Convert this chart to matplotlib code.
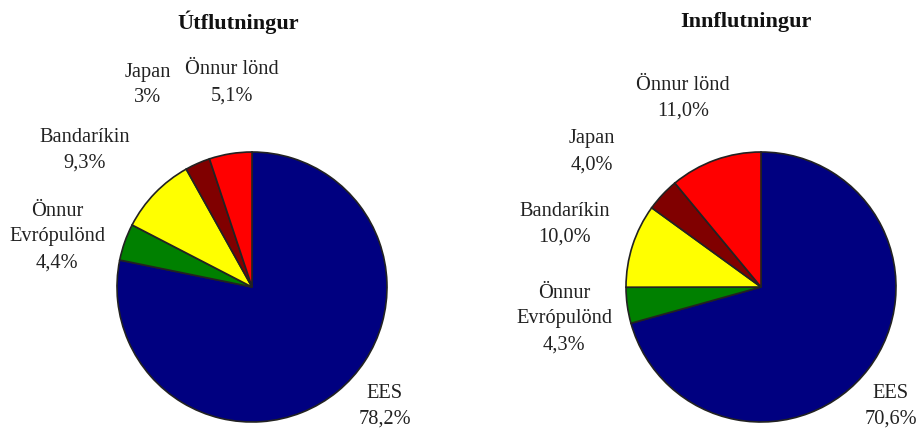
import matplotlib
matplotlib.use("Agg")
import matplotlib.pyplot as plt

plt.rcParams['font.family'] = ['Liberation Serif', 'DejaVu Serif']

categories = ["EES", "Önnur\nEvrópulönd", "Bandaríkin", "Japan", "Önnur lönd"]
export_vals = [78.2, 4.4, 9.3, 3.0, 5.1]
export_lbls = ["78,2%", "4,4%", "9,3%", "3%", "5,1%"]
import_vals = [70.6, 4.3, 10.0, 4.0, 11.0]
import_lbls = ["70,6%", "4,3%", "10,0%", "4,0%", "11,0%"]
titles = ["Útflutningur", "Innflutningur"]

colors = ["#000080", "#008000", "#ffff00", "#800000", "#ff0000"]

W, H = 922, 429
fig = plt.figure(figsize=(W / 100, H / 100), dpi=100)
ax = fig.add_axes([0, 0, 1, 1])
ax.set_xlim(0, W)
ax.set_ylim(0, H)
ax.set_aspect("equal")
ax.axis("off")

# label positions in pixels (x, top line y) for each slice
export_pos = [(385, 393), (57, 211), (85, 137), (148, 72), (232, 70)]
import_pos = [(891, 393), (564, 293), (565, 211), (592, 139), (683, 85)]

charts = [
    (export_vals, export_lbls, (252, 287), export_pos, (238, 22)),
    (import_vals, import_lbls, (761, 287), import_pos, (746, 22)),
]

for i, (vals, lbls, c, pos, tpos) in enumerate(charts):
    ax.pie(vals, colors=colors, startangle=90, counterclock=False,
           center=(c[0], H - c[1]), radius=135,
           wedgeprops=dict(edgecolor="#222222", linewidth=1.2))
    for cat, lb, (x, y) in zip(categories, lbls, pos):
        lines = cat.split("\n") + [lb]
        for k, ln in enumerate(lines):
            ax.text(x, H - (y + 26 * k), ln, ha="center", va="center",
                    fontsize=14.7, color="#222222")
    ax.text(tpos[0], H - tpos[1], titles[i], ha="center", va="center",
            fontsize=16, fontweight="bold", color="#111111")

ax.set_xlim(0, W)
ax.set_ylim(0, H)

fig.savefig("out.png", dpi=100)
